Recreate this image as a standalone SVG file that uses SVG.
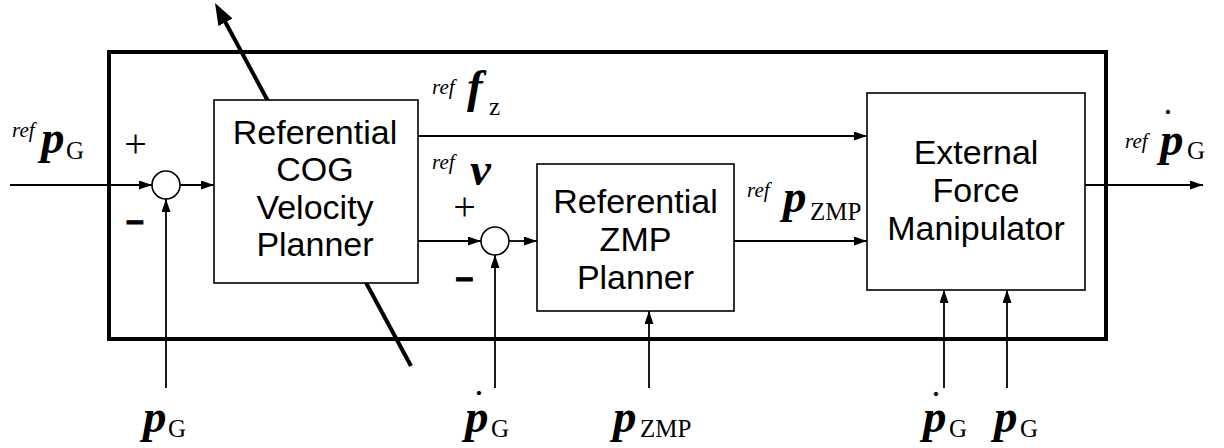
<svg xmlns="http://www.w3.org/2000/svg" width="1224" height="448" viewBox="0 0 1224 448">
<style>
.box{fill:#fff;stroke:#000;stroke-width:1.6}
.frame{fill:none;stroke:#000;stroke-width:4}
.sum{fill:#fff;stroke:#000;stroke-width:1.6}
.ln{fill:none;stroke:#000;stroke-width:1.8}
.thick{fill:none;stroke:#000;stroke-width:4}
.bt{font-family:"Liberation Sans",Arial,sans-serif;font-size:34px;text-anchor:middle;fill:#000}
.m{font-family:"Liberation Serif","Times New Roman",serif;fill:#000}
.ref{font-style:italic;font-size:21px}
.sym{font-style:italic;font-weight:bold;font-size:47px}
.sub{font-size:25px}
.dot{font-weight:bold;font-size:28px;text-anchor:middle}
.pl{font-family:"Liberation Serif","Times New Roman",serif;font-size:40px;text-anchor:middle;fill:#000}
.mi{font-family:"Liberation Sans",Arial,sans-serif;font-weight:bold;font-size:32px;text-anchor:middle;fill:#000;stroke:#000;stroke-width:1}
</style>
<defs>
<marker id="ah" markerUnits="userSpaceOnUse" markerWidth="13" markerHeight="9" refX="13" refY="4.5" orient="auto">
<path d="M0,0 L13,4.5 L0,9 z" fill="#000"/>
</marker>
<marker id="big" markerUnits="userSpaceOnUse" markerWidth="22" markerHeight="16" refX="14" refY="8" orient="auto">
<path d="M0,0 L22,8 L0,16 z" fill="#000"/>
</marker>
</defs>
<rect width="1224" height="448" fill="#fff"/>
<g id="frame"><rect class="frame" x="109" y="52" width="997" height="287"/></g>
<g id="connectors">
<path class="thick" d="M411,366 L218.8,10" marker-end="url(#big)"/>
<path class="ln" d="M10,185 H152" marker-end="url(#ah)"/>
<path class="ln" d="M180,185 H214" marker-end="url(#ah)"/>
<path class="ln" d="M418,136 H867" marker-end="url(#ah)"/>
<path class="ln" d="M418,241 H481" marker-end="url(#ah)"/>
<path class="ln" d="M509,241 H537" marker-end="url(#ah)"/>
<path class="ln" d="M734,241 H867" marker-end="url(#ah)"/>
<path class="ln" d="M1085,185 H1203" marker-end="url(#ah)"/>
<path class="ln" d="M166,388 V199" marker-end="url(#ah)"/>
<path class="ln" d="M495,388 V255" marker-end="url(#ah)"/>
<path class="ln" d="M649,388 V311" marker-end="url(#ah)"/>
<path class="ln" d="M944,388 V290" marker-end="url(#ah)"/>
<path class="ln" d="M1007,388 V290" marker-end="url(#ah)"/>
</g>
<g id="cog">
<rect class="box" x="214" y="100" width="204" height="183"/>
<text class="bt" x="315" y="143.5">Referential</text>
<text class="bt" x="315" y="181">COG</text>
<text class="bt" x="315" y="218.5">Velocity</text>
<text class="bt" x="315" y="256">Planner</text>
</g>
<g id="zmp">
<rect class="box" x="537" y="164" width="197" height="147"/>
<text class="bt" x="635.5" y="212.5">Referential</text>
<text class="bt" x="635.5" y="250.5">ZMP</text>
<text class="bt" x="635.5" y="288.5">Planner</text>
</g>
<g id="efm">
<rect class="box" x="867" y="93" width="218" height="197"/>
<text class="bt" x="976" y="163.5">External</text>
<text class="bt" x="976" y="201.5">Force</text>
<text class="bt" x="976" y="240">Manipulator</text>
</g>
<g id="sum1">
<circle class="sum" cx="166" cy="185" r="14"/>
<text class="pl" x="135.5" y="157">+</text>
<text class="mi" x="135" y="231">–</text>
</g>
<g id="sum2">
<circle class="sum" cx="495" cy="241" r="14"/>
<text class="pl" x="464.5" y="220">+</text>
<text class="mi" x="464.5" y="287.5">–</text>
</g>
<g id="labels">
<text class="m"><tspan class="ref" x="12" y="137">ref</tspan><tspan class="sym" x="41" y="153">p</tspan><tspan class="sub" x="66" y="159">G</tspan></text>
<text class="m"><tspan class="ref" x="432" y="94">ref</tspan><tspan class="sym" x="467" y="102">f</tspan><tspan class="sub" x="489" y="115">z</tspan></text>
<text class="m"><tspan class="ref" x="432" y="169">ref</tspan><tspan class="sym" x="470" y="185">v</tspan></text>
<text class="m"><tspan class="ref" x="747" y="197">ref</tspan><tspan class="sym" x="783" y="212">p</tspan><tspan class="sub" x="810" y="220">ZMP</tspan></text>
<text class="m"><tspan class="ref" x="1125" y="148">ref</tspan><tspan class="sym" x="1160" y="155">p</tspan><tspan class="sub" x="1187" y="159">G</tspan></text>
<text class="m dot" x="1168" y="129">˙</text>
<text class="m"><tspan class="sym" x="143" y="432">p</tspan><tspan class="sub" x="168" y="437">G</tspan></text>
<text class="m"><tspan class="sym" x="465" y="432">p</tspan><tspan class="sub" x="491" y="437">G</tspan></text>
<text class="m dot" x="479" y="410">˙</text>
<text class="m"><tspan class="sym" x="613" y="432">p</tspan><tspan class="sub" x="640" y="437">ZMP</tspan></text>
<text class="m"><tspan class="sym" x="923" y="432">p</tspan><tspan class="sub" x="949" y="437">G</tspan></text>
<text class="m dot" x="936" y="411">˙</text>
<text class="m"><tspan class="sym" x="994" y="432">p</tspan><tspan class="sub" x="1020" y="437">G</tspan></text>
</g>
</svg>
